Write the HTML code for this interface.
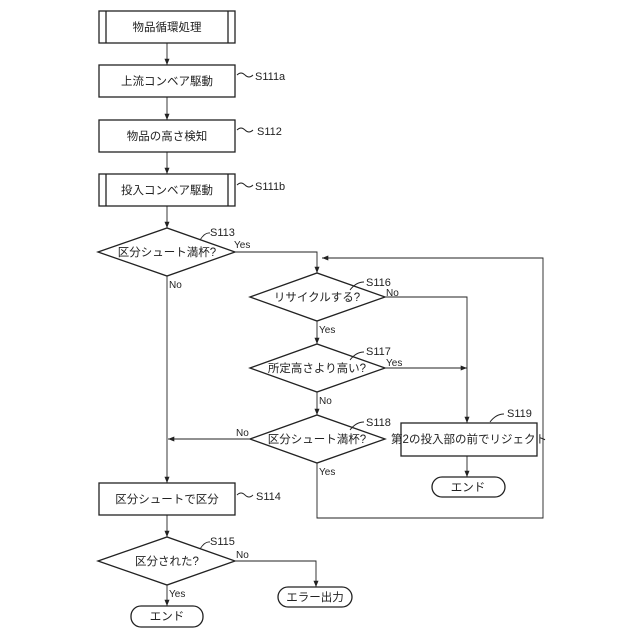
<!DOCTYPE html>
<html><head><meta charset="utf-8"><style>body{margin:0;background:#fff}svg{display:block}text{font-family:"Liberation Sans","Noto Sans CJK JP",sans-serif;fill:#222}</style></head><body>
<svg width="640" height="640" viewBox="0 0 640 640" xmlns="http://www.w3.org/2000/svg">
<defs><marker id="a" viewBox="0 0 10 10" refX="10" refY="5" markerWidth="7" markerHeight="7" orient="auto"><path d="M0,1 L10,5 L0,9 z" fill="#222"/></marker></defs>
<g fill="none" stroke="#222" stroke-width="1.3">
<rect x="99" y="11" width="136" height="32"/><line x1="106" y1="11" x2="106" y2="43"/><line x1="228" y1="11" x2="228" y2="43"/>
<rect x="99" y="65" width="136" height="32"/>
<rect x="99" y="120" width="136" height="32"/>
<rect x="99" y="174" width="136" height="32"/><line x1="106" y1="174" x2="106" y2="206"/><line x1="228" y1="174" x2="228" y2="206"/>
<polygon points="98,252 167,228 235,252 167,276"/>
<polygon points="250,297 317,273 385,297 317,321"/>
<polygon points="250,368 317,344 385,368 317,392"/>
<polygon points="250,439 317,415 385,439 317,463"/>
<rect x="401" y="423" width="136" height="33"/>
<rect x="432" y="477" width="73" height="20" rx="10"/>
<rect x="99" y="483" width="136" height="32"/>
<polygon points="98,561 167,537 235,561 167,585"/>
<rect x="278" y="587" width="74" height="20" rx="10"/>
<rect x="131" y="606" width="72" height="21" rx="10"/>
</g>
<g fill="none" stroke="#222" stroke-width="0.9">
<line x1="167" y1="43" x2="167" y2="65" marker-end="url(#a)"/>
<line x1="167" y1="97" x2="167" y2="120" marker-end="url(#a)"/>
<line x1="167" y1="152" x2="167" y2="174" marker-end="url(#a)"/>
<line x1="167" y1="206" x2="167" y2="228" marker-end="url(#a)"/>
<line x1="167" y1="276" x2="167" y2="483" marker-end="url(#a)"/>
<polyline points="235,252 317,252 317,273" marker-end="url(#a)"/>
<polyline points="317,463 317,518 543,518 543,258 322,258" marker-end="url(#a)"/>
<line x1="317" y1="321" x2="317" y2="344" marker-end="url(#a)"/>
<line x1="317" y1="392" x2="317" y2="415" marker-end="url(#a)"/>
<line x1="250" y1="439" x2="168" y2="439" marker-end="url(#a)"/>
<polyline points="385,297 467,297 467,423" marker-end="url(#a)"/>
<line x1="385" y1="368" x2="467" y2="368" marker-end="url(#a)"/>
<line x1="467" y1="456" x2="467" y2="477" marker-end="url(#a)"/>
<line x1="167" y1="515" x2="167" y2="537" marker-end="url(#a)"/>
<line x1="167" y1="585" x2="167" y2="606" marker-end="url(#a)"/>
<polyline points="235,561 316,561 316,587" marker-end="url(#a)"/>
<path d="M237,75 q4,-4 8,0 t8,0"/><path d="M237,130 q4,-4 8,0 t8,0"/><path d="M237,185 q4,-4 8,0 t8,0"/>
<path d="M237,495 q4,-4 8,0 t8,0"/>
<path d="M200,240 q5,-8 10,-7"/><path d="M350,290 q6,-8 14,-8"/><path d="M350,360 q6,-8 14,-8"/><path d="M350,430 q6,-8 14,-8"/><path d="M490,422 q6,-8 14,-8"/><path d="M200,549 q5,-8 10,-7"/>
</g>
<g font-size="11.5" text-anchor="middle">
<text x="167" y="31">物品循環処理</text>
<text x="167" y="85">上流コンベア駆動</text>
<text x="167" y="140">物品の高さ検知</text>
<text x="167" y="194">投入コンベア駆動</text>
<text x="167" y="256">区分シュート満杯?</text>
<text x="317" y="301">リサイクルする?</text>
<text x="317" y="372">所定高さより高い?</text>
<text x="317" y="443">区分シュート満杯?</text>
<text x="469" y="443">第2の投入部の前でリジェクト</text>
<text x="468" y="491">エンド</text>
<text x="167" y="503">区分シュートで区分</text>
<text x="167" y="565">区分された?</text>
<text x="315" y="601">エラー出力</text>
<text x="167" y="620">エンド</text>
</g>
<g font-size="11">
<text x="255" y="80">S111a</text><text x="257" y="135">S112</text><text x="255" y="190">S111b</text>
<text x="210" y="236">S113</text><text x="366" y="286">S116</text><text x="366" y="355">S117</text><text x="366" y="426">S118</text><text x="507" y="417">S119</text>
<text x="256" y="500">S114</text><text x="210" y="545">S115</text>
</g>
<g font-size="10">
<text x="234" y="248">Yes</text><text x="169" y="288">No</text>
<text x="386" y="296">No</text><text x="319" y="333">Yes</text>
<text x="386" y="366">Yes</text><text x="319" y="404">No</text>
<text x="236" y="436">No</text><text x="319" y="475">Yes</text>
<text x="236" y="558">No</text><text x="169" y="597">Yes</text>
</g>
</svg>
</body></html>
